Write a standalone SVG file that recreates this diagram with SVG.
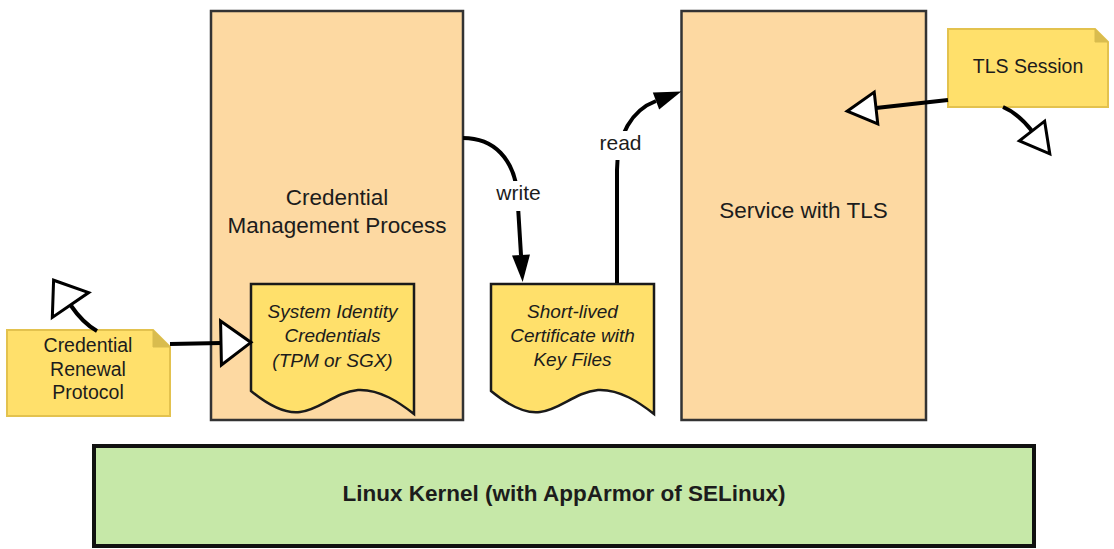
<svg xmlns="http://www.w3.org/2000/svg" width="1114" height="549" viewBox="0 0 1114 549">
  <style>
    .box { fill: #FDD9A2; stroke: #333333; stroke-width: 2.5; }
    .doc { fill: #FFE06B; stroke: #1a1a1a; stroke-width: 2.5; }
    .note { fill: #FFE06B; stroke: #E3C24E; stroke-width: 2; }
    .fold { fill: #D9BC4E; stroke: #D9BC4E; stroke-width: 1; }
    .kernel { fill: #C6E8A8; stroke: #111111; stroke-width: 4; }
    .t { font-family: "Liberation Sans", Arial, sans-serif; fill: #1c1c1c; text-anchor: middle; }
    .big { font-size: 22.5px; }
    .mid { font-size: 19.5px; }
    .it { font-size: 19px; font-style: italic; }
    .bold { font-size: 22.5px; font-weight: bold; }
    .lbl { font-size: 21px; }
    .edge { fill: none; stroke: #000000; stroke-width: 4; }
    .lblbg { fill: #FFFFFF; }
  </style>
  <defs>
    <marker id="hollowL" markerUnits="userSpaceOnUse" markerWidth="36" markerHeight="50" refX="2" refY="24" orient="auto" overflow="visible">
      <path d="M2,2 L32,24 L2,46 Z" fill="#FFFFFF" stroke="#000000" stroke-width="3" stroke-linejoin="miter"/>
    </marker>
    <marker id="hollowS" markerUnits="userSpaceOnUse" markerWidth="34" markerHeight="38" refX="2" refY="18" orient="auto" overflow="visible">
      <path d="M2,2 L31,18 L2,34 Z" fill="#FFFFFF" stroke="#000000" stroke-width="3" stroke-linejoin="miter"/>
    </marker>
    <marker id="filled" markerUnits="userSpaceOnUse" markerWidth="30" markerHeight="20" refX="0" refY="9" orient="auto" overflow="visible">
      <path d="M0,0 L27,9 L0,18 Z" fill="#000000"/>
    </marker>
  </defs>

  <g id="credential-management-process">
    <rect class="box" x="211" y="11" width="252" height="409"/>
    <text class="t big" x="337" y="205">Credential</text>
    <text class="t big" x="337" y="233">Management Process</text>
  </g>

  <g id="service-with-tls">
    <rect class="box" x="681.5" y="11" width="244.5" height="409"/>
    <text class="t big" x="803.5" y="218">Service with TLS</text>
  </g>

  <g id="linux-kernel">
    <rect class="kernel" x="94" y="446" width="940" height="100"/>
    <text class="t bold" x="564" y="501">Linux Kernel (with AppArmor of SELinux)</text>
  </g>

  <g id="system-identity-credentials">
    <path class="doc" d="M251,284 H414 V414 C400,403 380,389 358,390 C335,392 320,410 300,412 C285,414 268,405 251,391 Z"/>
    <text class="t it" x="332.5" y="318">System Identity</text>
    <text class="t it" x="332.5" y="342">Credentials</text>
    <text class="t it" x="332.5" y="367">(TPM or SGX)</text>
  </g>

  <g id="short-lived-certificate">
    <path class="doc" d="M491,284 H654 V414 C640,403 620,389 598,390 C575,392 560,410 540,412 C525,414 508,405 491,391 Z"/>
    <text class="t it" x="572.5" y="318">Short-lived</text>
    <text class="t it" x="572.5" y="342">Certificate with</text>
    <text class="t it" x="572.5" y="366">Key Files</text>
  </g>

  <g id="credential-renewal-protocol">
    <path class="note" d="M7,330 H153 L170,347 V416 H7 Z"/>
    <path class="fold" d="M153,330 L153,347 L170,347 Z"/>
    <text class="t mid" x="88" y="352">Credential</text>
    <text class="t mid" x="88" y="376">Renewal</text>
    <text class="t mid" x="88" y="399">Protocol</text>
  </g>

  <g id="tls-session">
    <path class="note" d="M948,29 H1095 L1108,42 V107 H948 Z"/>
    <path class="fold" d="M1095,29 L1095,42 L1108,42 Z"/>
    <text class="t mid" x="1028" y="73">TLS Session</text>
  </g>

  <g id="connectors">
    <path class="edge" d="M170,344 L221,343" marker-end="url(#hollowL)"/>
    <path class="edge" d="M97,331 C88,326 78,316 70.5,305" marker-end="url(#hollowL)"/>
    <path class="edge" d="M948,100 L876,108" marker-end="url(#hollowS)"/>
    <path class="edge" d="M1003,107 C1015,112 1025,122 1032,131" marker-end="url(#hollowS)"/>
    <path class="edge" d="M463,138 C495,138 513,160 517,190 L521,255" marker-end="url(#filled)"/>
    <path class="edge" d="M617,283 L617,170 C617,135 632,110 656,101" marker-end="url(#filled)"/>
    <rect class="lblbg" x="492" y="181" width="54" height="30"/>
    <text class="t lbl" x="518.5" y="200">write</text>
    <rect class="lblbg" x="596" y="131" width="50" height="29"/>
    <text class="t lbl" x="620.5" y="150">read</text>
  </g>
</svg>
